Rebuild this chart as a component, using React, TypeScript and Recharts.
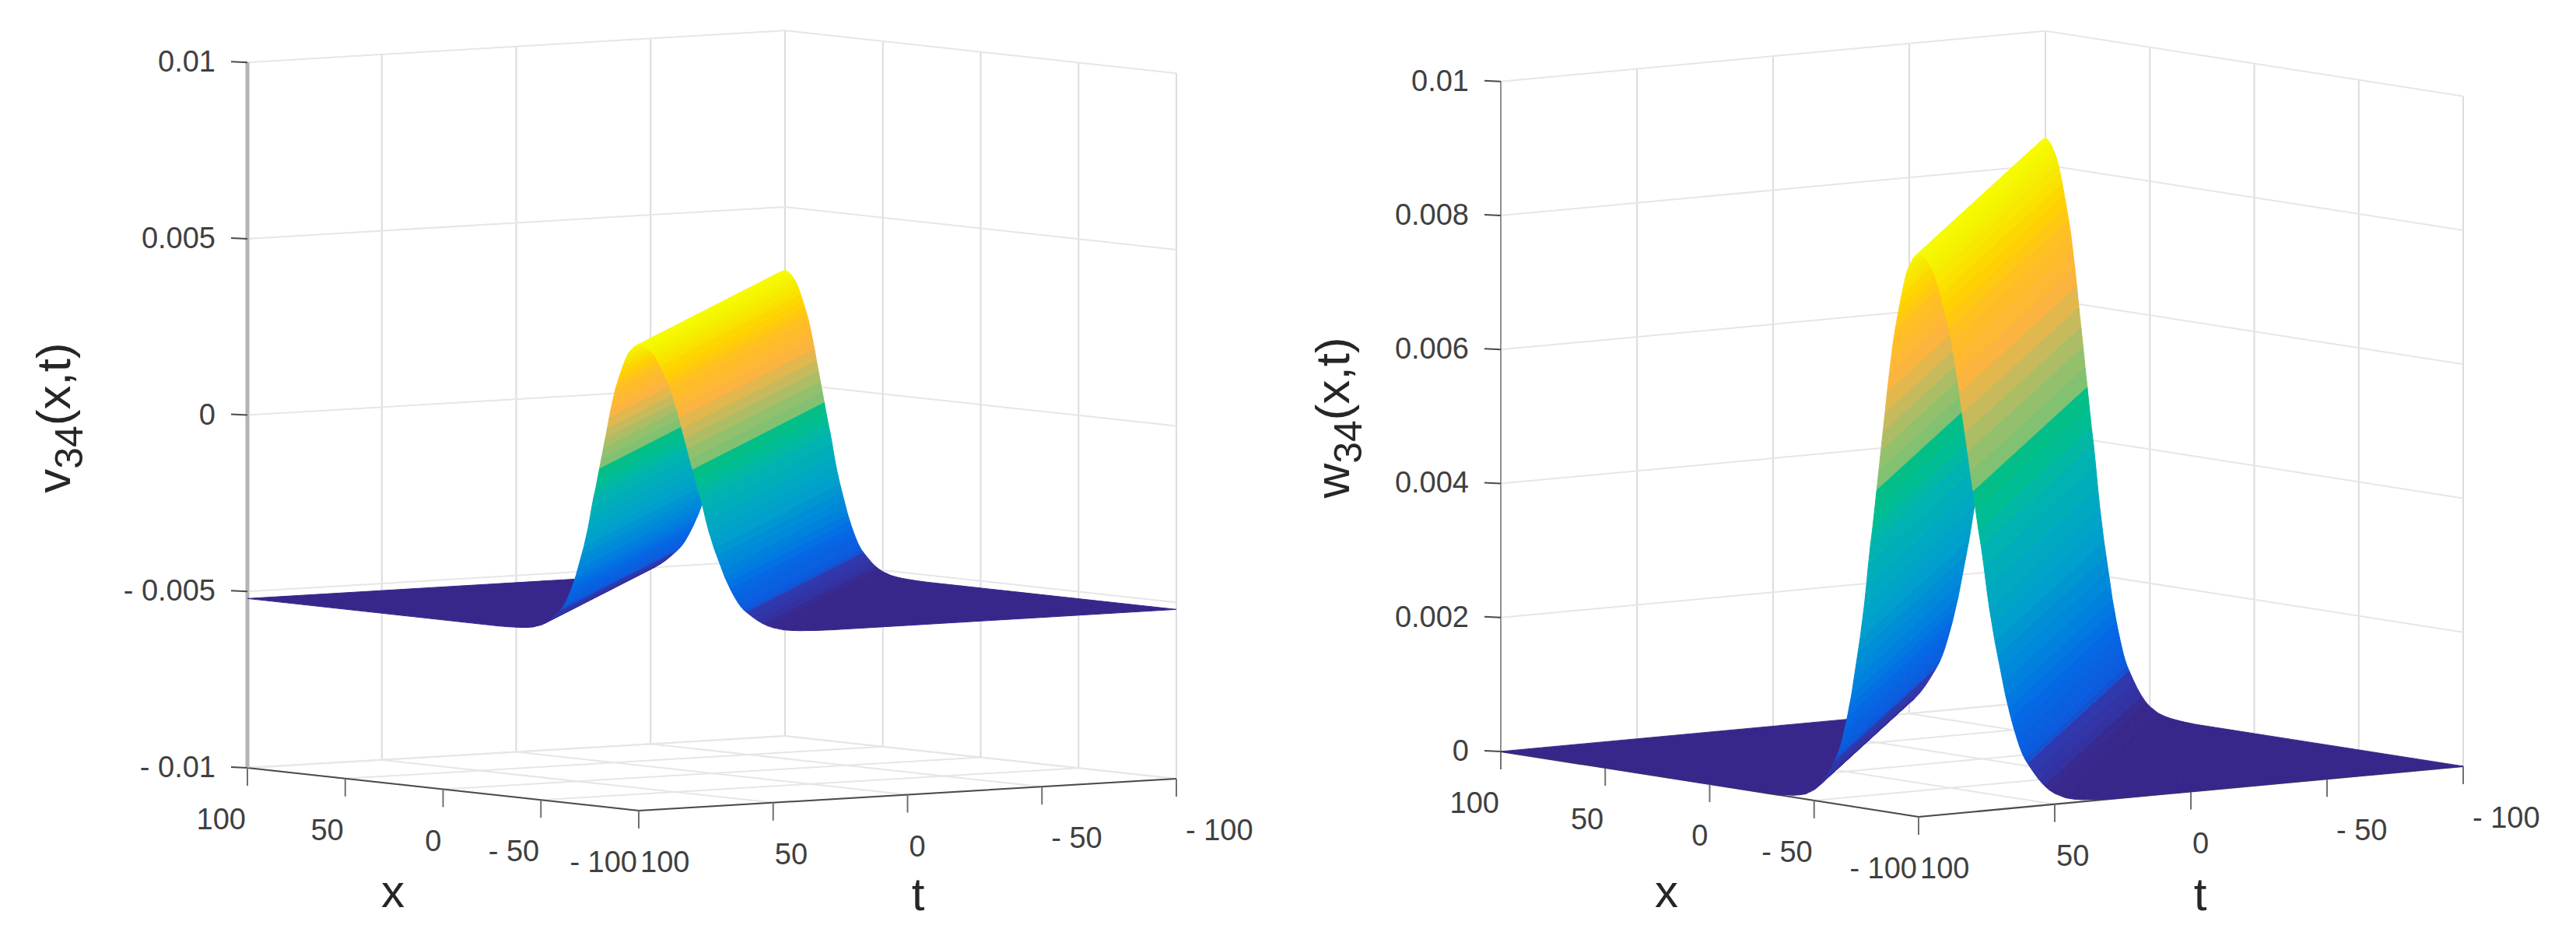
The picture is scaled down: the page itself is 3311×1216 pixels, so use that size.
import { Scatter, ScatterChart, XAxis, YAxis } from "recharts";

// distance from the ridge, measured along x + t
const ridgeOffset = [0, 1, 2, 3, 4, 5, 6, 7, 8, 9, 10, 11, 12, 13, 14, 15, 16, 17, 18, 19, 20, 21, 22, 23, 24, 25, 26, 27, 28, 29, 30, 31, 32, 33, 34, 35, 36, 37, 38, 39, 40, 42, 44, 46, 48, 50, 52, 54, 57, 60, 66, 72, 90, 120, 200];

// surface height at each offset
const vHeight = [0.0032, 0.00318, 0.00315, 0.0031, 0.00303, 0.00296, 0.00286, 0.00272, 0.00257, 0.0024, 0.00223, 0.00205, 0.00186, 0.00161, 0.00135, 0.00107, 0.00076, 0.00047, 0.00018, -0.00012, -0.00041, -0.00071, -0.001, -0.00125, -0.00155, -0.00188, -0.00218, -0.00243, -0.00268, -0.00289, -0.0031, -0.00331, -0.00352, -0.00369, -0.00386, -0.00401, -0.00415, -0.00428, -0.00439, -0.00448, -0.00455, -0.00468, -0.0048, -0.0049, -0.00498, -0.00504, -0.00508, -0.00512, -0.00515, -0.00517, -0.00519, -0.0052, -0.0052, -0.0052, -0.0052];
const wHeight = [0.0084, 0.00838, 0.00835, 0.0083, 0.00823, 0.00816, 0.00806, 0.00792, 0.00777, 0.0076, 0.00743, 0.00725, 0.00706, 0.00681, 0.00655, 0.00627, 0.00596, 0.00567, 0.00538, 0.00508, 0.00479, 0.00449, 0.0042, 0.00395, 0.00365, 0.00332, 0.00302, 0.00277, 0.00252, 0.00231, 0.0021, 0.00189, 0.00168, 0.00151, 0.00134, 0.00119, 0.00105, 0.00092, 0.00081, 0.00072, 0.00065, 0.00052, 0.0004, 0.0003, 0.00022, 0.00016, 0.00012, 0.00008, 0.00005, 0.00003, 0.00001, 0, 0, 0, 0];

const xTicks = [100, 50, 0, -50, -100];
const tTicks = [100, 50, 0, -50, -100];
const vTicks = [0.01, 0.005, 0, -0.005, -0.01];
const wTicks = [0.01, 0.008, 0.006, 0.004, 0.002, 0];

// colour along the height of the sheet, 0 = floor, 1 = ridge
const colorStop = [0, 0.03, 0.035, 0.07, 0.085, 0.15, 0.2, 0.32, 0.46, 0.52, 0.56, 0.58, 0.63, 0.7, 0.77, 0.85, 0.9, 0.97, 1];
const colorRgb = [
  [56, 39, 138],
  [56, 40, 142],
  [51, 48, 159],
  [47, 56, 173],
  [13, 90, 221],
  [5, 104, 229],
  [0, 125, 224],
  [0, 160, 204],
  [0, 180, 176],
  [0, 189, 146],
  [4, 192, 132],
  [127, 193, 115],
  [150, 192, 108],
  [205, 185, 90],
  [255, 180, 60],
  [255, 192, 32],
  [255, 210, 0],
  [245, 240, 0],
  [247, 251, 0],
];

const FONT = "'Liberation Sans', Arial, sans-serif";

const leftView = {
  domain: [0, 1655],
  originX: 318, originY: 987,
  xStep: [2.515, 0.275],
  tStep: [3.455, -0.205],
  zScale: 45340,
  zMin: -0.01,
  zMax: 0.01,
  axisColor: "#b4b4b4",
  axisWidth: 5,
  ticks: vTicks,
  heights: vHeight,
  name: "v",
  labelX: 72,
  xLabelX: 505,
  tLabelX: 1180,
};

const rightView = {
  domain: [1655, 3311],
  originX: 1929, originY: 966,
  xStep: [2.685, 0.42],
  tStep: [3.5, -0.325],
  zScale: 86130,
  zMin: 0,
  zMax: 0.01,
  axisColor: "#909090",
  axisWidth: 2,
  ticks: wTicks,
  heights: wHeight,
  name: "w",
  labelX: 1716,
  xLabelX: 2142,
  tLabelX: 2828,
};

type View = typeof leftView;

function project(view: View, x: number, t: number, z: number) {
  return {
    sx: view.originX + (100 - x) * view.xStep[0] + (100 - t) * view.tStep[0],
    sy: view.originY + (100 - x) * view.xStep[1] + (100 - t) * view.tStep[1] - (z - view.zMin) * view.zScale,
  };
}

function colorAt(f: number) {
  let i = 0;
  while (i < colorStop.length - 2 && f > colorStop[i + 1]) i++;
  const k = Math.min(1, Math.max(0, (f - colorStop[i]) / (colorStop[i + 1] - colorStop[i])));
  const c = colorRgb[i].map((a, n) => Math.round(a + (colorRgb[i + 1][n] - a) * k));
  return `rgb(${c[0]},${c[1]},${c[2]})`;
}

const noMark = () => null;

function path(key: string, data: { sx: number; sy: number }[], stroke: string, strokeWidth: number, fill?: string) {
  return (
    <Scatter
      key={key}
      data={data}
      line={{ stroke, strokeWidth, fill: fill ?? "none" }}
      shape={noMark}
      isAnimationActive={false}
      legendType="none"
    />
  );
}

function label(key: string, at: { sx: number; sy: number }, text: string, anchor: string, size: number, color: string) {
  return (
    <Scatter
      key={key}
      data={[at]}
      isAnimationActive={false}
      legendType="none"
      shape={(p: any) => (
        <text x={p.cx} y={p.cy} textAnchor={anchor} fontSize={size} fill={color} fontFamily={FONT}>
          {text}
        </text>
      )}
    />
  );
}

function tickText(v: number) {
  return v < 0 ? `- ${Math.abs(v)}` : `${v}`;
}

// ends of the line x + t = offset on the square, on one side of the ridge
function lineEnds(offset: number, side: number) {
  return side > 0
    ? [[offset - 100, 100], [100, offset - 100]]
    : [[-100, 100 - offset], [100 - offset, -100]];
}

function strips(view: View, side: number) {
  const base = view.heights[view.heights.length - 1];
  const top = view.heights[0];
  const out = [];
  for (let i = ridgeOffset.length - 1; i > 0; i--) {
    const zo = view.heights[i];
    const zi = view.heights[i - 1];
    const [a, b] = lineEnds(ridgeOffset[i], side);
    const [c, d] = lineEnds(ridgeOffset[i - 1], side);
    const pts = [
      project(view, a[0], a[1], zo),
      project(view, b[0], b[1], zo),
      project(view, d[0], d[1], zi),
      project(view, c[0], c[1], zi),
    ];
    pts.push(pts[0]);
    const color = colorAt(((zo + zi) / 2 - base) / (top - base));
    out.push(path(`s${side}-${i}`, pts, color, 1, color));
  }
  return out;
}

function grid(view: View) {
  const out = [];
  const light = "#e6e6e6";
  const wall = "#dcdcdc";
  tTicks.forEach((t) => {
    if (t !== 100) out.push(path(`gt${t}`, [project(view, 100, t, view.zMin), project(view, 100, t, view.zMax)], wall, 2));
    out.push(path(`ft${t}`, [project(view, 100, t, view.zMin), project(view, -100, t, view.zMin)], light, 2));
  });
  xTicks.forEach((x) => {
    out.push(path(`gx${x}`, [project(view, x, -100, view.zMin), project(view, x, -100, view.zMax)], wall, 2));
    out.push(path(`fx${x}`, [project(view, x, 100, view.zMin), project(view, x, -100, view.zMin)], light, 2));
  });
  view.ticks.forEach((z) => {
    out.push(path(`gz${z}`, [project(view, 100, 100, z), project(view, 100, -100, z), project(view, -100, -100, z)], light, 2));
  });
  return out;
}

function axes(view: View) {
  const out = [];
  const dark = "#4a4a4a";
  const L = project(view, 100, 100, view.zMin);
  const F = project(view, -100, 100, view.zMin);
  const R = project(view, -100, -100, view.zMin);
  out.push(path("edge", [L, F, R], dark, 2));
  out.push(path("zaxis", [L, project(view, 100, 100, view.zMax)], view.axisColor, view.axisWidth));
  view.ticks.forEach((z) => {
    const p = project(view, 100, 100, z);
    out.push(path(`zt${z}`, [p, { sx: p.sx - 21, sy: p.sy - 1 }], dark, 2));
    out.push(label(`zl${z}`, { sx: p.sx - 41, sy: p.sy + 12 }, tickText(z), "end", 38, "#404040"));
  });
  xTicks.forEach((x) => {
    const p = project(view, x, 100, view.zMin);
    out.push(path(`xt${x}`, [p, { sx: p.sx, sy: p.sy + 23 }], "#707070", 2));
    out.push(label(`xl${x}`, { sx: p.sx - 2, sy: p.sy + 79 }, tickText(x), "end", 38, "#404040"));
  });
  tTicks.forEach((t) => {
    const p = project(view, -100, t, view.zMin);
    out.push(path(`tt${t}`, [p, { sx: p.sx, sy: p.sy + 23 }], "#707070", 2));
    out.push(label(`tl${t}`, { sx: p.sx + (t < 0 ? 12 : 2), sy: p.sy + 79 }, tickText(t), "start", 38, "#404040"));
  });
  return out;
}

function Panel({ view }: { view: View }) {
  const width = view.domain[1] - view.domain[0];
  return (
    <ScatterChart width={width} height={1216} margin={{ top: 0, right: 0, bottom: 0, left: 0 }}>
      <XAxis type="number" dataKey="sx" domain={view.domain} hide />
      <YAxis type="number" dataKey="sy" domain={[0, 1216]} reversed hide />
      {grid(view)}
      {axes(view)}
      {strips(view, 1)}
      {strips(view, -1)}
      {label("xname", { sx: view.xLabelX, sy: 1166 }, "x", "middle", 60, "#262626")}
      {label("tname", { sx: view.tLabelX, sy: 1170 }, "t", "middle", 60, "#262626")}
      <Scatter
        data={[{ sx: view.labelX, sy: 537 }]}
        isAnimationActive={false}
        legendType="none"
        shape={(p: any) => (
          <text
            transform={`translate(${p.cx + 18},${p.cy}) rotate(-90)`}
            textAnchor="middle"
            fontSize={62}
            fill="#262626"
            fontFamily={FONT}
          >
            {view.name}
            <tspan fontSize={50} dy={16}>34</tspan>
            <tspan dy={-16}>(x,t)</tspan>
          </text>
        )}
      />
    </ScatterChart>
  );
}

export default function App() {
  return (
    <div style={{ position: "absolute", left: 0, top: 0, width: 3311, height: 1216, display: "flex", background: "#fff" }}>
      <Panel view={leftView} />
      <Panel view={rightView} />
    </div>
  );
}
